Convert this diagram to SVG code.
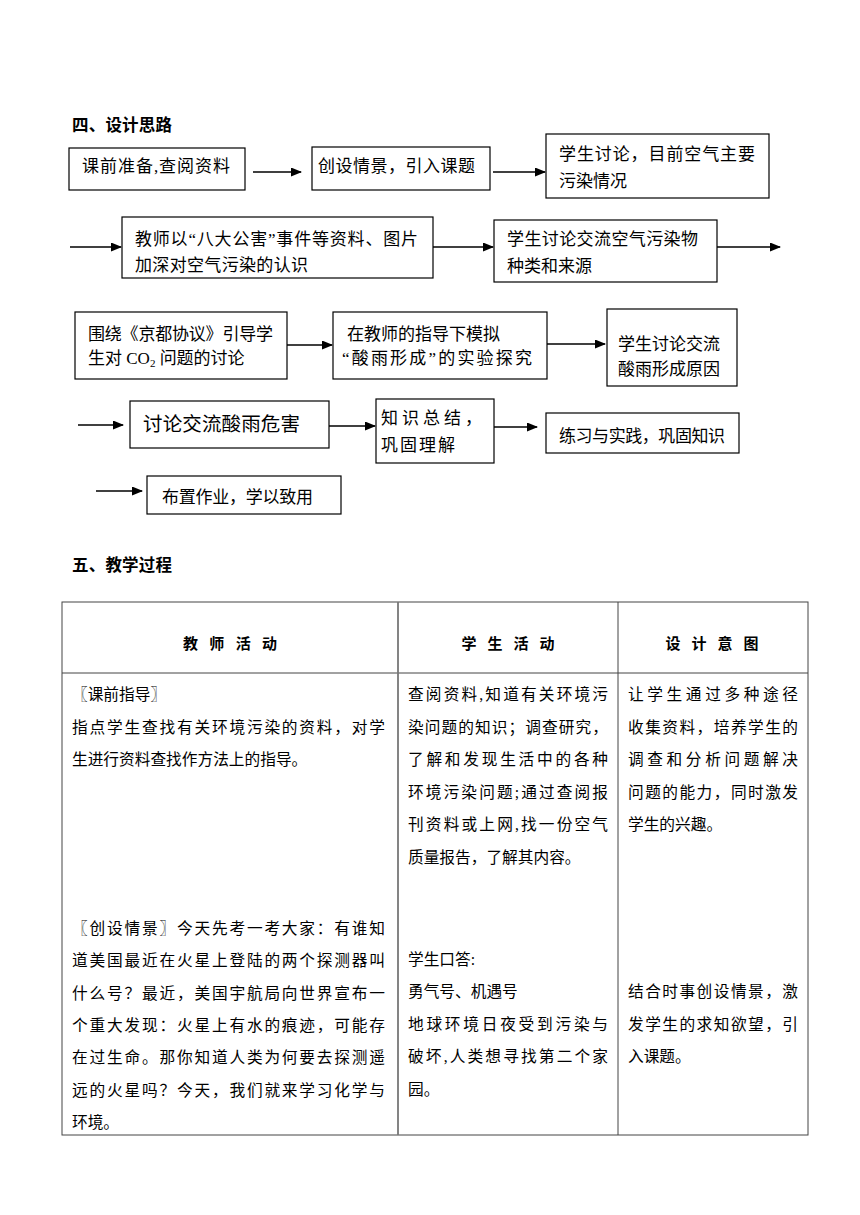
<svg xmlns="http://www.w3.org/2000/svg" width="860" height="1215" viewBox="0 0 860 1215">
<style>
.t{font-family:"Liberation Serif","Noto Sans CJK SC",serif;fill:#000}
.f{font-size:17px}
.b{font-size:15.7px}
.h{font-family:"Noto Sans CJK SC",sans-serif;font-weight:bold;font-size:16.5px;fill:#000}
.hd{font-family:"Noto Sans CJK SC",sans-serif;font-weight:bold;font-size:15px;fill:#000}
.box{fill:#fff;stroke:#000;stroke-width:1.2}
.con{stroke:#000;stroke-width:1.3;fill:none}
.tb{stroke:#444;stroke-width:1;fill:none}
</style>
<defs>
<marker id="ah" markerUnits="userSpaceOnUse" markerWidth="11" markerHeight="9" refX="10" refY="4.5" orient="auto">
<path d="M0,0 L11,4.5 L0,9 z" fill="#000"/>
</marker>
</defs>
<rect width="860" height="1215" fill="#fff"/>
<text class="h" x="72" y="131" textLength="100">四、设计思路</text>

<g id="connectors">
<line class="con" x1="253" y1="172" x2="301" y2="172" marker-end="url(#ah)"/>
<line class="con" x1="493" y1="172" x2="545" y2="172" marker-end="url(#ah)"/>
<line class="con" x1="70" y1="247" x2="121" y2="247" marker-end="url(#ah)"/>
<line class="con" x1="433" y1="247" x2="493" y2="247" marker-end="url(#ah)"/>
<line class="con" x1="717" y1="247" x2="780" y2="247" marker-end="url(#ah)"/>
<line class="con" x1="287" y1="345" x2="332" y2="345" marker-end="url(#ah)"/>
<line class="con" x1="547" y1="344" x2="605" y2="344" marker-end="url(#ah)"/>
<line class="con" x1="78" y1="425" x2="123" y2="425" marker-end="url(#ah)"/>
<line class="con" x1="329" y1="426" x2="375" y2="426" marker-end="url(#ah)"/>
<line class="con" x1="494" y1="427" x2="537" y2="427" marker-end="url(#ah)"/>
<line class="con" x1="96" y1="491" x2="142" y2="491" marker-end="url(#ah)"/>
</g>

<g id="n1"><rect class="box" x="69" y="148" width="176" height="42"/>
<text class="t f" x="82" y="172" textLength="148">课前准备,查阅资料</text></g>
<g id="n2"><rect class="box" x="312" y="147" width="178" height="43"/>
<text class="t f" x="318" y="172" textLength="157">创设情景，引入课题</text></g>
<g id="n3"><rect class="box" x="546" y="134" width="223" height="64"/>
<text class="t f" x="559" y="159.5" textLength="196">学生讨论，目前空气主要</text>
<text class="t f" x="559" y="186.5">污染情况</text></g>
<g id="n4"><rect class="box" x="122" y="217" width="311" height="61"/>
<text class="t f" x="135" y="244.5" textLength="283">教师以“八大公害”事件等资料、图片</text>
<text class="t f" x="135" y="270.5" textLength="173">加深对空气污染的认识</text></g>
<g id="n5"><rect class="box" x="494" y="220" width="223" height="62"/>
<text class="t f" x="507" y="244.5" textLength="191">学生讨论交流空气污染物</text>
<text class="t f" x="507" y="271.5" textLength="85">种类和来源</text></g>
<g id="n6"><rect class="box" x="75" y="312" width="212" height="67"/>
<text class="t f" x="88" y="339.5" textLength="185">围绕《京都协议》引导学</text>
<text class="t f" x="88" y="363.5">生对 CO<tspan font-size="11" dy="3">2</tspan><tspan dy="-3"> 问题的讨论</tspan></text></g>
<g id="n7"><rect class="box" x="333" y="312" width="214" height="67"/>
<text class="t f" x="347" y="339.5" textLength="153">在教师的指导下模拟</text>
<text class="t f" x="342" y="363.5" textLength="190">“酸雨形成”的实验探究</text></g>
<g id="n8"><rect class="box" x="607" y="309" width="130" height="77"/>
<text class="t f" x="618" y="349.5" textLength="102">学生讨论交流</text>
<text class="t f" x="618" y="374.5" textLength="102">酸雨形成原因</text></g>
<g id="n9"><rect class="box" x="130" y="401" width="199" height="47"/>
<text class="t" font-size="19.5" x="143" y="430.5" textLength="157">讨论交流酸雨危害</text></g>
<g id="n10"><rect class="box" x="376" y="399" width="118" height="64"/>
<text class="t f" x="381" y="423.5" textLength="101">知识总结，</text>
<text class="t f" x="381" y="450.5" textLength="74">巩固理解</text></g>
<g id="n11"><rect class="box" x="546" y="413" width="193" height="40"/>
<text class="t f" x="559" y="441.5" textLength="166">练习与实践，巩固知识</text></g>
<g id="n12"><rect class="box" x="147" y="476" width="194" height="38"/>
<text class="t f" x="162" y="502.5" textLength="151">布置作业，学以致用</text></g>

<text class="h" x="72" y="571" textLength="100">五、教学过程</text>

<g id="table">
<rect class="tb" x="62" y="602" width="746" height="533"/>
<line class="tb" x1="62" y1="673" x2="808" y2="673"/>
<line x1="398" y1="602" x2="398" y2="1135" stroke="#777" stroke-width="1.8"/>
<line class="tb" x1="618" y1="602" x2="618" y2="1135"/>
<text class="hd" x="230" y="648.5" text-anchor="middle" textLength="94">教 师 活 动</text>
<text class="hd" x="508" y="648.5" text-anchor="middle" textLength="93">学 生 活 动</text>
<text class="hd" x="712" y="648.5" text-anchor="middle" textLength="93">设 计 意 图</text>
</g>

<g id="col1" class="t b">
<text x="72" y="700">〖课前指导〗</text>
<text x="72" y="732.6" textLength="313">指点学生查找有关环境污染的资料，对学</text>
<text x="72" y="765.2">生进行资料查找作方法上的指导。</text>
<text x="72" y="934" textLength="313">〖创设情景〗今天先考一考大家：有谁知</text>
<text x="72" y="966.3" textLength="313">道美国最近在火星上登陆的两个探测器叫</text>
<text x="72" y="998.6" textLength="313">什么号？最近，美国宇航局向世界宣布一</text>
<text x="72" y="1030.9" textLength="313">个重大发现：火星上有水的痕迹，可能存</text>
<text x="72" y="1063.2" textLength="313">在过生命。那你知道人类为何要去探测遥</text>
<text x="72" y="1095.5" textLength="313">远的火星吗？今天，我们就来学习化学与</text>
<text x="72" y="1127.8">环境。</text>
</g>

<g id="col2" class="t b">
<text x="408" y="700" textLength="200">查阅资料,知道有关环境污</text>
<text x="408" y="732.6" textLength="200">染问题的知识；调查研究，</text>
<text x="408" y="765.2" textLength="200">了解和发现生活中的各种</text>
<text x="408" y="797.8" textLength="200">环境污染问题;通过查阅报</text>
<text x="408" y="830.4" textLength="200">刊资料或上网,找一份空气</text>
<text x="408" y="863">质量报告，了解其内容。</text>
<text x="408" y="964.5">学生口答:</text>
<text x="408" y="997">勇气号、机遇号</text>
<text x="408" y="1029.5" textLength="200">地球环境日夜受到污染与</text>
<text x="408" y="1062" textLength="200">破坏,人类想寻找第二个家</text>
<text x="408" y="1094.5">园。</text>
</g>

<g id="col3" class="t b">
<text x="628" y="700" textLength="170">让学生通过多种途径</text>
<text x="628" y="732.6" textLength="170">收集资料，培养学生的</text>
<text x="628" y="765.2" textLength="170">调查和分析问题解决</text>
<text x="628" y="797.8" textLength="170">问题的能力，同时激发</text>
<text x="628" y="830.4">学生的兴趣。</text>
<text x="628" y="997" textLength="170">结合时事创设情景，激</text>
<text x="628" y="1029.5" textLength="170">发学生的求知欲望，引</text>
<text x="628" y="1062">入课题。</text>
</g>
</svg>
